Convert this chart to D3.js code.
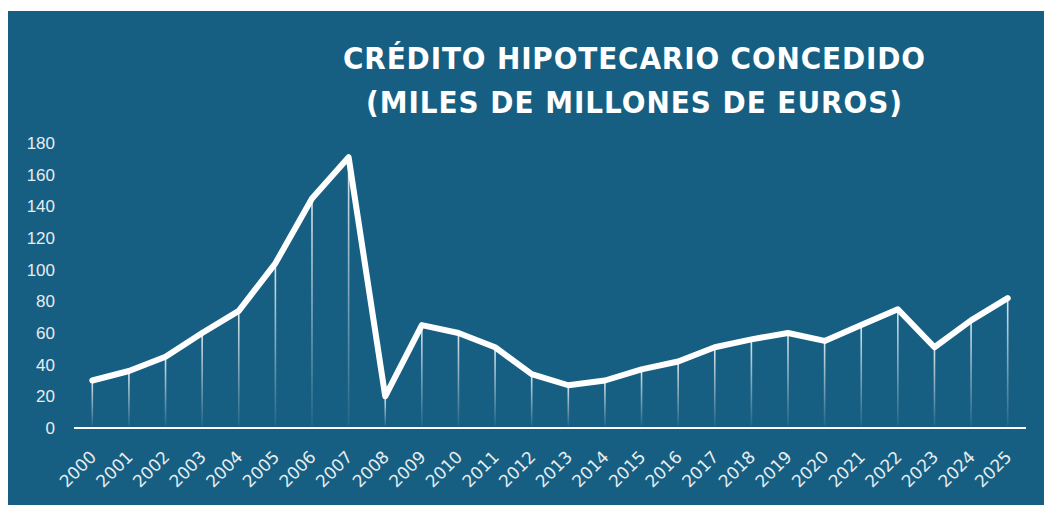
<!doctype html>
<html lang="es">
<head>
<meta charset="utf-8">
<title>Crédito hipotecario concedido</title>
<script src="https://cdn.jsdelivr.net/npm/d3@7"></script>
<style>
  body { margin: 0; background: #fff; }
  svg { display: block; }
</style>
</head>
<body>
<script>
    // datos
    var years = ["2000","2001","2002","2003","2004","2005","2006","2007","2008","2009","2010","2011","2012",
                 "2013","2014","2015","2016","2017","2018","2019","2020","2021","2022","2023","2024","2025"];
    var credit = [30, 36, 45, 60, 74, 104, 145, 171, 20, 65, 60, 51, 34,
                  27, 30, 37, 42, 51, 56, 60, 55, 65, 75, 51, 68, 82];
    var yTicks = [0, 20, 40, 60, 80, 100, 120, 140, 160, 180];
    var titleLines = ["CRÉDITO HIPOTECARIO CONCEDIDO", "(MILES DE MILLONES DE EUROS)"];
    var titleWidths = [582, 536];

    var W = 1044, H = 505;
    var svg = d3.select("body").append("svg").attr("width", W).attr("height", H);

    svg.append("rect").attr("x", 8).attr("y", 11).attr("width", W - 8).attr("height", H - 11)
        .attr("fill", "#175f82");

    var defs = svg.append("defs");
    var grad = defs.append("linearGradient").attr("id", "fade")
        .attr("x1", 0).attr("y1", 0).attr("x2", 0).attr("y2", 1);
    grad.append("stop").attr("offset", "0%").attr("stop-color", "#fff").attr("stop-opacity", 0.85);
    grad.append("stop").attr("offset", "100%").attr("stop-color", "#fff").attr("stop-opacity", 0.05);

    var x = d3.scaleBand().domain(years).range([74, 1026]);
    var y = d3.scaleLinear().domain([0, 180]).range([428, 143]);
    var cx = function(d){ return x(d) + x.bandwidth() / 2; };

    var data = years.map(function(d, i){ return {year: d, value: credit[i]}; });

    // titulo
    svg.append("g").selectAll("text").data(titleLines).enter().append("text")
        .attr("x", 634).attr("y", function(d, i){ return 69 + i * 44; })
        .attr("text-anchor", "middle")
        .attr("textLength", function(d, i){ return titleWidths[i]; })
        .attr("lengthAdjust", "spacing")
        .attr("fill", "#fff")
        .style("font-family", "'DejaVu Sans Condensed', 'DejaVu Sans', sans-serif")
        .style("font-stretch", "condensed")
        .style("font-weight", 700)
        .style("font-size", "31px")
        .text(function(d){ return d; });

    // eje y
    svg.append("g").selectAll("text").data(yTicks).enter().append("text")
        .attr("x", 55).attr("y", function(d){ return y(d); })
        .attr("dy", "0.35em")
        .attr("text-anchor", "end")
        .attr("fill", "#e6edf1")
        .style("font-family", "'Liberation Sans', Arial, sans-serif")
        .style("font-size", "17px")
        .text(function(d){ return d; });

    // lineas verticales
    svg.append("g").selectAll("line").data(data).enter().append("line")
        .attr("x1", function(d){ return cx(d.year); })
        .attr("x2", function(d){ return cx(d.year) + 0.01; })
        .attr("y1", function(d){ return y(d.value); })
        .attr("y2", y(0) - 2)
        .attr("stroke", "url(#fade)")
        .attr("stroke-width", 1.6);

    // eje x
    svg.append("line").attr("x1", 74).attr("x2", 1026).attr("y1", y(0)).attr("y2", y(0))
        .attr("stroke", "#fff").attr("stroke-width", 2);

    svg.append("g").selectAll("text").data(years).enter().append("text")
        .attr("transform", function(d){ return "translate(" + (cx(d) + 5) + "," + 458 + ") rotate(-45)"; })
        .attr("text-anchor", "end")
        .attr("fill", "#e6edf1")
        .style("font-family", "'DejaVu Sans', sans-serif")
        .style("font-size", "17px")
        .text(function(d){ return d; });

    // linea
    var line = d3.line()
        .x(function(d){ return cx(d.year); })
        .y(function(d){ return y(d.value); });
    svg.append("path").datum(data)
        .attr("d", line)
        .attr("fill", "none")
        .attr("stroke", "#fff")
        .attr("stroke-width", 6)
        .attr("stroke-linejoin", "round")
        .attr("stroke-linecap", "round");
</script>
</body>
</html>
